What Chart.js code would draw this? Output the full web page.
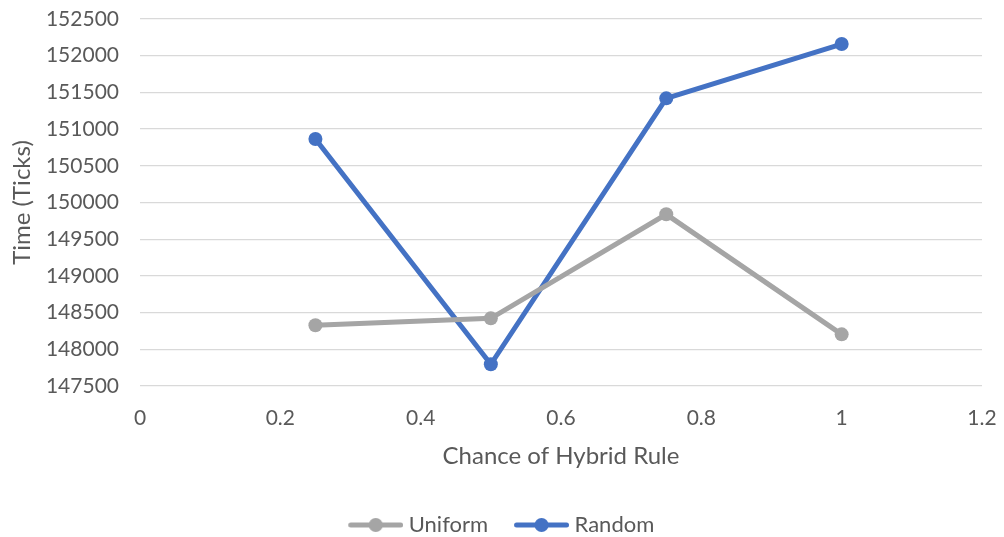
<!DOCTYPE html>
<html>
<head>
<meta charset="utf-8">
<script src="https://cdn.jsdelivr.net/npm/chart.js@4/dist/chart.umd.min.js"></script>
<style>
  html, body { margin: 0; padding: 0; background: #ffffff; }
  #wrap { width: 1004px; height: 537px; position: relative; }
</style>
</head>
<body>
<div id="wrap"><canvas id="c" width="1004" height="537"></canvas></div>
<script>
const xValues = [0.25, 0.5, 0.75, 1];
const uniformValues = [148327, 148422, 149839, 148204];
const randomValues = [150865, 147796, 151419, 152159];
const seriesNames = ['Uniform', 'Random'];
const seriesColors = ['#A5A5A5', '#4472C4'];
const xTitle = 'Chance of Hybrid Rule';
const yTitle = 'Time (Ticks)';

const FONT = 'Lato, "Open Sans", sans-serif';
const TEXT = '#595959';

// legend marker: line with a dot, offset so that text gap matches
function legendMarker(color) {
  const c = document.createElement('canvas');
  c.width = 61; c.height = 16;
  const g = c.getContext('2d');
  g.strokeStyle = color; g.lineWidth = 5; g.lineCap = 'round';
  g.beginPath(); g.moveTo(8.5, 8); g.lineTo(58.5, 8); g.stroke();
  g.fillStyle = color;
  g.beginPath(); g.arc(33.5, 8, 7, 0, Math.PI * 2); g.fill();
  return c;
}

const data = {
  datasets: [uniformValues, randomValues].map((vals, i) => ({
    label: seriesNames[i],
    data: xValues.map((x, j) => ({ x: x, y: vals[j] })),
    borderColor: seriesColors[i],
    backgroundColor: seriesColors[i],
    borderWidth: 5,
    pointRadius: 7,
    pointHoverRadius: 7,
    pointBorderWidth: 0,
    tension: 0,
    fill: false
  }))
};

new Chart(document.getElementById('c'), {
  type: 'line',
  data: data,
  options: {
    responsive: false,
    animation: false,
    layout: { padding: { left: 20, right: 22, top: 19, bottom: -9 } },
    plugins: {
      tooltip: { enabled: false },
      legend: {
        position: 'bottom',
        labels: {
          font: { family: FONT, size: 22 },
          color: TEXT,
          usePointStyle: true,
          pointStyleWidth: 50,
          padding: 25.5,
          generateLabels: (chart) => chart.data.datasets.map((ds, i) => ({
            text: ds.label,
            fillStyle: ds.borderColor,
            strokeStyle: ds.borderColor,
            fontColor: TEXT,
            lineWidth: 0,
            pointStyle: legendMarker(ds.borderColor),
            datasetIndex: i,
            hidden: false
          }))
        }
      }
    },
    scales: {
      x: {
        type: 'linear',
        min: 0, max: 1.2,
        ticks: {
          stepSize: 0.2,
          font: { family: FONT, size: 21 },
          color: TEXT,
          padding: 0,
          callback: (v) => String(Number(v.toFixed(1)))
        },
        grid: { display: false, drawTicks: true, tickLength: 20, tickColor: 'rgba(0,0,0,0)' },
        border: { display: false },
        title: {
          display: true, text: xTitle,
          font: { family: FONT, size: 24 }, color: TEXT,
          padding: { top: 0, bottom: 18.1 }
        },
        afterFit: (s) => { s.height = 102.5; }
      },
      y: {
        min: 147500, max: 152500,
        ticks: {
          stepSize: 500,
          font: { family: FONT, size: 21 },
          color: TEXT,
          padding: 0,
          callback: (v) => String(v)
        },
        grid: { color: '#D9D9D9', lineWidth: 1.3, drawTicks: true, tickLength: 21, tickColor: 'rgba(0,0,0,0)' },
        border: { display: false },
        title: {
          display: true, text: yTitle,
          font: { family: FONT, size: 24 }, color: TEXT,
          padding: { top: -12, bottom: 0 }
        },
        afterFit: (s) => { s.width = 120; }
      }
    }
  }
});
</script>
</body>
</html>
